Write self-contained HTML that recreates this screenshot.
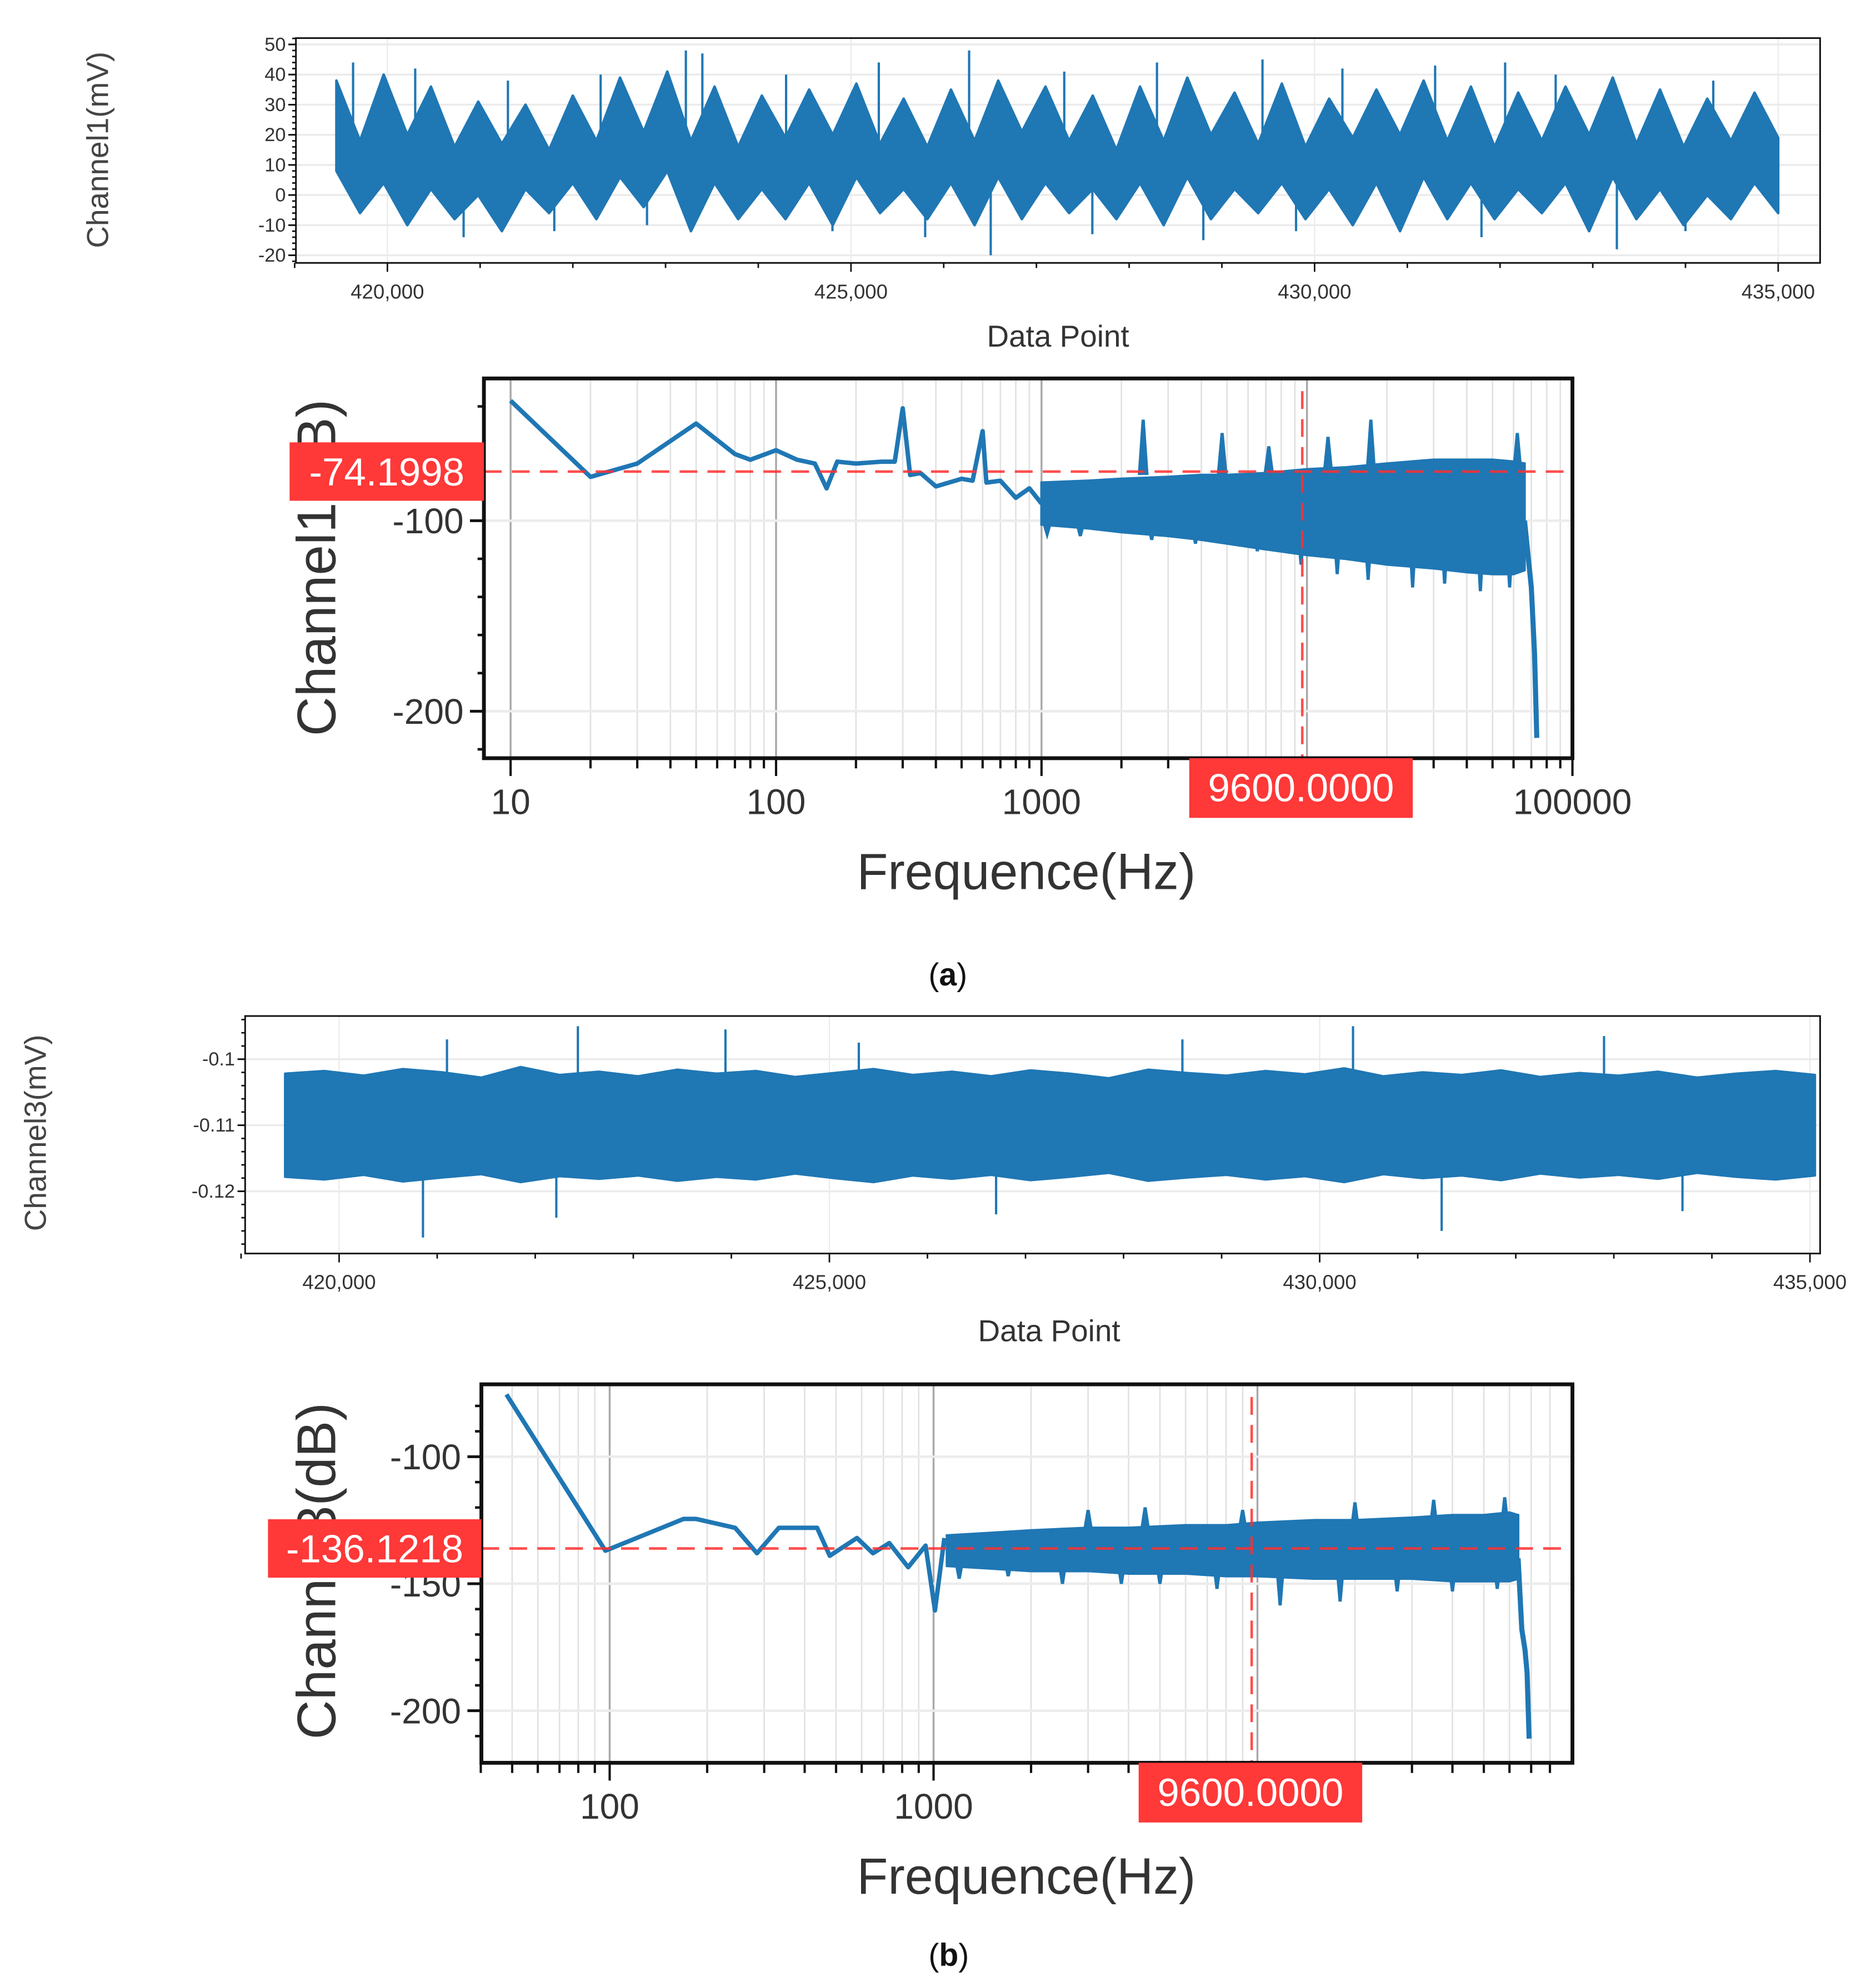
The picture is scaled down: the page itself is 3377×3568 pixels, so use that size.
<!DOCTYPE html>
<html><head><meta charset="utf-8"><style>
html,body{margin:0;padding:0;background:#fff;}
svg{display:block;}
text{font-family:"Liberation Sans",sans-serif;}
</style></head><body>
<svg id="chart" xmlns="http://www.w3.org/2000/svg" width="3377" height="3568" viewBox="0 0 1477 1560.6" preserveAspectRatio="none"></svg>
<script>
// ---------- data: panel (a) time series ----------
const topA_range=[419450,435000];
const topA_xTicks=[420000,425000,430000,435000];
const topA_xLabels=['420,000','425,000','430,000','435,000'];
const topA_yTicks=[50,40,30,20,10,0,-10,-20];
const topA_peakHi=[38,40,36,31,30,33,39,41,36,33,35,37,32,35,38,36,33,36,39,34,37,32,35,38,36,34,36,39,35,32,34];
const topA_peakLo=[8,4,2,0,2,4,6,8,4,2,4,6,2,4,6,4,2,4,6,2,4,2,4,6,4,2,4,6,2,0,4];
const topA_troughHi=[18,20,16,17,15,18,21,18,16,19,20,17,16,18,21,18,15,18,20,17,16,19,20,18,16,18,20,17,16,18,19];
const topA_troughLo=[-6,-10,-8,-12,-6,-8,-4,-12,-8,-8,-10,-6,-8,-10,-8,-6,-8,-10,-8,-6,-8,-10,-12,-8,-8,-6,-12,-8,-10,-8,-6];
const topA_spikePts=[419630,423219,423397,426274,429438,432055,426507,433260,420822,427603,420300,421300,422300,424300,425300,427300,428300,430300,431300,432600,434300,421800,422800,424800,425800,428800,429800,431800,434000];
const topA_spikeVals=[44,48,47,48,45,44,-20,-18,-14,-13,42,38,40,40,44,41,44,42,43,40,38,-12,-10,-12,-14,-15,-12,-14,-12];
// ---------- panel (a) spectrum ----------
const specA_lowF=[10,20,30,50,70,80,100,120,140,155,170,200,250,280,300,320,350,400,500,550,600,620,700,800,900,1000];
const specA_lowDb=[-37,-77,-70,-49,-65,-68,-63,-68,-70,-83,-69,-70,-69,-69,-41,-76,-75,-82,-78,-79,-53,-80,-79,-88,-83,-91];
const specA_bandF=[1000,1500,2000,3000,4000,5000,7000,10000,14000,20000,30000,40000,50000,60000,66000];
const specA_bandHi=[-80,-79,-78,-77,-76,-76,-75,-73,-72,-70,-68,-68,-68,-69,-70];
const specA_bandLo=[-102,-104,-106,-108,-110,-112,-115,-118,-120,-123,-125,-127,-128,-128,-126];
const specA_dipF=[1050,1400,2600,3800,6500,9500,13000,17000,25000,33000,45000,58000];
const specA_dipDb=[-107,-108,-110,-112,-116,-123,-128,-131,-135,-133,-137,-135];
const specA_spikeF=[2415,4790,7180,12000,17400,62000];
const specA_spikeDb=[-47,-54,-61,-56,-47,-54];
const specA_dropF=[66000,70000,72000,73400];
const specA_dropDb=[-100,-135,-170,-214];
const specA_marker=[9600,-74.1998];
// ---------- panel (b) time series ----------
const topB_range=[419450,435050];
const topB_xTicks=[420000,425000,430000,435000];
const topB_xLabels=['420,000','425,000','430,000','435,000'];
const topB_yTicks=[-0.1,-0.11,-0.12];
const topB_yLabels=['-0.1','-0.11','-0.12'];
const topB_hi=[-0.1022,-0.1018,-0.1025,-0.1015,-0.1020,-0.1028,-0.1012,-0.1024,-0.1019,-0.1026,-0.1016,-0.1022,-0.1018,-0.1027,-0.1021,-0.1015,-0.1024,-0.1019,-0.1026,-0.1017,-0.1022,-0.1029,-0.1016,-0.1021,-0.1025,-0.1018,-0.1023,-0.1014,-0.1026,-0.1020,-0.1024,-0.1017,-0.1027,-0.1021,-0.1025,-0.1019,-0.1028,-0.1022,-0.1018,-0.1024];
const topB_lo=[-0.1178,-0.1182,-0.1175,-0.1185,-0.1179,-0.1174,-0.1186,-0.1177,-0.1181,-0.1176,-0.1184,-0.1178,-0.1182,-0.1173,-0.1180,-0.1186,-0.1176,-0.1181,-0.1175,-0.1183,-0.1178,-0.1172,-0.1184,-0.1179,-0.1175,-0.1182,-0.1177,-0.1186,-0.1174,-0.1180,-0.1176,-0.1183,-0.1173,-0.1179,-0.1175,-0.1181,-0.1172,-0.1178,-0.1182,-0.1176];
const topB_spikePts=[422435,423940,430340,421100,425300,428600,432900,420855,431244,422215,426700,433700];
const topB_spikeVals=[-0.095,-0.0955,-0.095,-0.097,-0.0975,-0.097,-0.0965,-0.127,-0.126,-0.124,-0.1235,-0.123];
// ---------- panel (b) spectrum ----------
const specB_lowF=[48,97,169,185,244,285,333,437,478,580,650,730,835,945,1010,1080];
const specB_lowDb=[-75.5,-137,-124.5,-124.5,-128,-138,-128,-128,-139,-132,-138,-134,-143.5,-135,-160.5,-132];
const specB_bandF=[1100,1500,2000,3000,4000,6000,8000,10000,15000,20000,30000,40000,50000,60000,63800];
const specB_bandHi=[-131,-130,-129,-128,-128,-127,-127,-126,-125,-125,-124,-123,-123,-122,-123];
const specB_bandLo=[-143,-144,-145,-145,-146,-146,-147,-147,-148,-148,-148,-149,-149,-149,-148];
const specB_dipF=[1200,1700,2500,3800,5000,7500,11750,18000,27000,40000,55000];
const specB_dipDb=[-148,-147,-150,-150,-150,-152,-158.5,-157,-153,-153,-152];
const specB_spikeF=[3000,4500,9000,20000,35000,58000];
const specB_spikeDb=[-121,-120,-121,-118,-117,-116];
const specB_dropF=[63800,65500,67000,68000,69000];
const specB_dropDb=[-140,-168,-176,-185,-211];
const specB_marker=[9600,-136.1218];

const NS='http://www.w3.org/2000/svg';
const svg=document.getElementById('chart');
const BLUE='#1f77b4';
function mk(tag,attrs,parent){const e=document.createElementNS(NS,tag);for(const k in attrs)e.setAttribute(k,attrs[k]);(parent||svg).appendChild(e);return e;}
function txt(str,attrs,parent){const e=mk('text',attrs,parent);e.textContent=str;return e;}
function lin(d0,d1,r0,r1){return v=>r0+(v-d0)*(r1-r0)/(d1-d0);}
function logS(d0,d1,r0,r1){const a=Math.log10(d0),b=Math.log10(d1);return v=>r0+(Math.log10(v)-a)*(r1-r0)/(b-a);}

function timePanel(o){
  const g=mk('g',{});
  
  
  const x=lin(o.xd[0],o.xd[1],o.xr[0],o.xr[1]);
  const y=lin(o.yd[0],o.yd[1],o.yr[0],o.yr[1]);
  const B=o.box;
  o.xTicks.forEach(t=>{const l=mk('line',{x1:x(t),x2:x(t),y1:B[1],y2:B[3],stroke:'#ebebeb','stroke-width':1},g);
    
    });
  o.yTicks.forEach(t=>{const l=mk('line',{x1:B[0],x2:B[2],y1:y(t),y2:y(t),stroke:'#ebebeb','stroke-width':1.5},g);
    
    });
  const pts=o.bandTop.length;
  let top=[],bot=[];
  for(let k=0;k<pts;k++){const dp=o.range[0]+k*(o.range[1]-o.range[0])/(pts-1);top.push(x(dp)+','+y(o.bandTop[k]));bot.unshift(x(dp)+','+y(o.bandBot[k]));}
  const band=mk('polygon',{points:top.concat(bot).join(' '),fill:BLUE,stroke:BLUE,'stroke-width':2,'stroke-linejoin':'round'},g);
  
  
  o.spikePts.forEach((p,i)=>{const l=mk('line',{x1:x(p),x2:x(p),y1:y(o.mid),y2:y(o.spikeVals[i]),stroke:BLUE,'stroke-width':1.8},g);
    
    });
  const fr=mk('rect',{x:B[0],y:B[1],width:B[2]-B[0],height:B[3]-B[1],fill:'none',stroke:'#111','stroke-width':1.3},g);
  
  
  for(let t=o.minorX[0];t<=o.minorX[1];t+=o.minorX[2]){const major=o.xTicks.includes(t);
    const l=mk('line',{x1:x(t),x2:x(t),y1:B[3],y2:B[3]+(major?7:4),stroke:'#111','stroke-width':1.2},g);
    
    }
  o.xTicks.forEach((t,i)=>{const tx=txt(o.xLabels[i],{x:x(t),y:B[3]+28,'font-size':16,fill:'#333','text-anchor':'middle'},g);
    
    });
  for(let v=o.minorY[0];v<=o.minorY[1]+1e-9;v+=o.minorY[2]){const l=mk('line',{x1:B[0]-3,x2:B[0],y1:y(v),y2:y(v),stroke:'#111','stroke-width':1.2},g);
    
    }
  o.yTicks.forEach((t,i)=>{const l=mk('line',{x1:B[0]-6,x2:B[0],y1:y(t),y2:y(t),stroke:'#111','stroke-width':1.3},g);
    
    
    const tx=txt(o.yLabels[i],{x:B[0]-8,y:y(t)+5,'font-size':15,fill:'#333','text-anchor':'end'},g);
    
    });
  const xt=txt('Data Point',{x:o.xTitle[0],y:o.xTitle[1],'font-size':24,fill:'#333','text-anchor':'middle'},g);
  
  
  const yt=txt(o.yTitle,{x:0,y:0,'font-size':24,fill:'#444','text-anchor':'middle',transform:`translate(${o.yTitlePos[0]},${o.yTitlePos[1]}) rotate(-90)`},g);
  
  
}

function specPanel(o){
  const g=mk('g',{});
  
  
  const x=logS(o.xd[0],o.xd[1],o.xr[0],o.xr[1]);
  const y=lin(o.yd[0],o.yd[1],o.yr[0],o.yr[1]);
  const B=o.box;
  const fmin=o.fmin,fmax=o.fmax;
  for(let d=1;d<=5;d++){for(let m=1;m<=9;m++){const f=m*Math.pow(10,d);if(f<fmin||f>fmax)continue;
    const xx=x(f);const major=(m===1);
    if(xx>B[0]&&xx<B[2]){const l=mk('line',{x1:xx,x2:xx,y1:B[1],y2:B[3],stroke:major?'#a8a8a8':'#e2e2e2','stroke-width':major?1.5:1.2},g);
      
      }
    const tk=mk('line',{x1:xx,x2:xx,y1:B[3],y2:B[3]+(major?14:8),stroke:'#111','stroke-width':1.8},g);
    
    }}
  o.yTicks.forEach(t=>{const l=mk('line',{x1:B[0],x2:B[2],y1:y(t),y2:y(t),stroke:'#ececec','stroke-width':2},g);
    
    });
  const line=mk('polyline',{points:o.lowF.map((f,i)=>x(f)+','+y(o.lowDb[i])).join(' '),fill:'none',stroke:BLUE,'stroke-width':3.5,'stroke-linejoin':'round'},g);
  
  
  const top=o.bandF.map((f,i)=>x(f)+','+y(o.bandHi[i]));
  const bot=o.bandF.map((f,i)=>x(f)+','+y(o.bandLo[i])).reverse();
  const band=mk('polygon',{points:top.concat(bot).join(' '),fill:BLUE,stroke:BLUE,'stroke-width':2},g);
  
  
  o.dipF.forEach((f,i)=>{const l=mk('polyline',{points:`${x(f)-3},${y(o.dipBase)} ${x(f)},${y(o.dipDb[i])} ${x(f)+3},${y(o.dipBase)}`,fill:BLUE,stroke:BLUE,'stroke-width':2.5},g);
    
    });
  o.spikeF.forEach((f,i)=>{const l=mk('polyline',{points:`${x(f)-3},${y(o.spikeBase)} ${x(f)},${y(o.spikeDb[i])} ${x(f)+3},${y(o.spikeBase)}`,fill:BLUE,stroke:BLUE,'stroke-width':2.5},g);
    
    });
  const drop=mk('polyline',{points:o.dropF.map((f,i)=>x(f)+','+y(o.dropDb[i])).join(' '),fill:'none',stroke:BLUE,'stroke-width':4,'stroke-linejoin':'round'},g);
  
  
  const hy=y(o.marker[1]),vx=x(o.marker[0]);
  const hl=mk('line',{x1:B[0],x2:B[2],y1:hy,y2:hy,stroke:'#ff3030','stroke-width':2,'stroke-dasharray':'14,8','opacity':0.85},g);
  
  
  const vl=mk('line',{x1:vx,x2:vx,y1:B[1]+10,y2:B[3],stroke:'#ff3030','stroke-width':2,'stroke-dasharray':'14,8','opacity':0.85},g);
  
  
  const fr=mk('rect',{x:B[0],y:B[1],width:B[2]-B[0],height:B[3]-B[1],fill:'none',stroke:'#111','stroke-width':3},g);
  
  
  for(let v=o.minorY[0];v<=o.minorY[1];v+=o.minorY[2]){const l=mk('line',{x1:B[0]-5,x2:B[0],y1:y(v),y2:y(v),stroke:'#111','stroke-width':2},g);
    
    }
  o.yTicks.forEach(t=>{const l=mk('line',{x1:B[0]-11,x2:B[0],y1:y(t),y2:y(t),stroke:'#111','stroke-width':2.2},g);
    
    
    const tx=txt(String(t),{x:B[0]-16,y:y(t)+10,'font-size':28,fill:'#333','text-anchor':'end'},g);
    
    });
  o.xLabels.forEach(f=>{const tx=txt(String(f),{x:x(f),y:B[3]+44,'font-size':28,fill:'#333','text-anchor':'middle'},g);
    
    });
  const xt=txt('Frequence(Hz)',{x:808,y:B[3]+103,'font-size':40,fill:'#333','text-anchor':'middle'},g);
  
  
  const yt=txt(o.yTitle,{x:0,y:0,'font-size':43,fill:'#333','text-anchor':'middle',transform:`translate(264,${o.yTitleY}) rotate(-90)`},g);
  
  
  const rb=mk('rect',{x:o.yBox[0],y:hy-23,width:B[0]-o.yBox[0],height:46,fill:'#ff3838'},g);
  
  
  const rt=txt(o.marker[1].toFixed(4),{x:(o.yBox[0]+B[0])/2,y:hy+11,'font-size':31,fill:'#fff','text-anchor':'middle'},g);
  
  
  const xb=mk('rect',{x:vx-o.xBoxL,y:B[3],width:176,height:47,fill:'#ff3838'},g);
  
  
  const xtt=txt(o.marker[0].toFixed(4),{x:vx-o.xBoxL+88,y:B[3]+34,'font-size':31,fill:'#fff','text-anchor':'middle'},g);
  
  
}

const aTop=[],aBot=[];
for(let i=0;i<topA_peakHi.length;i++){aTop.push(topA_peakHi[i],topA_troughHi[i]);aBot.push(topA_peakLo[i],topA_troughLo[i]);}
timePanel({name:'channel1-time-chart',xd:[420000,435000],xr:[305,1400],yd:[50,-20],yr:[35,201],box:[233,30,1433,207],
  range:topA_range,bandTop:aTop,bandBot:aBot,mid:15,spikePts:topA_spikePts,spikeVals:topA_spikeVals,
  xTicks:topA_xTicks,xLabels:topA_xLabels,yTicks:topA_yTicks,yLabels:topA_yTicks.map(String),
  minorX:[419000,435000,1000],minorY:[-22,52,2],xTitle:[833,273],yTitle:'Channel1(mV)',yTitlePos:[85,118]});

specPanel({name:'channel1-spectrum-chart',xd:[10,100000],xr:[402,1238],yd:[-100,-200],yr:[410,560],box:[381,298,1238,597],
  fmin:8,fmax:100000,lowF:specA_lowF,lowDb:specA_lowDb,bandF:specA_bandF,bandHi:specA_bandHi,bandLo:specA_bandLo,
  dipF:specA_dipF,dipDb:specA_dipDb,dipBase:-100,spikeF:specA_spikeF,spikeDb:specA_spikeDb,spikeBase:-76,dropF:specA_dropF,dropDb:specA_dropDb,
  marker:specA_marker,yTicks:[-100,-200],minorY:[-220,-40,20],xLabels:[10,100,1000,10000,100000],
  yTitle:'Channel1(dB)',yTitleY:447,yBox:[228],xBoxL:89});

const ca=txt('(',{x:731,y:776,'font-size':25,fill:'#111','font-family':'Liberation Serif, serif'});


ca.innerHTML='(<tspan font-weight="bold">a</tspan>)';

timePanel({name:'channel3-time-chart',xd:[420000,435000],xr:[267,1425],yd:[-0.1,-0.12],yr:[834,938],box:[193,800,1433,987],
  range:topB_range,bandTop:topB_hi,bandBot:topB_lo,mid:-0.11,spikePts:topB_spikePts,spikeVals:topB_spikeVals,
  xTicks:topB_xTicks,xLabels:topB_xLabels,yTicks:topB_yTicks,yLabels:topB_yLabels,
  minorX:[419000,435000,1000],minorY:[-0.128,-0.094,0.002],xTitle:[826,1056],yTitle:'Channel3(mV)',yTitlePos:[36,892]});

specPanel({name:'channel3-spectrum-chart',xd:[100,1000],xr:[480,735],yd:[-100,-200],yr:[1147,1347],box:[379,1090,1238,1388],
  fmin:40,fmax:80000,lowF:specB_lowF,lowDb:specB_lowDb,bandF:specB_bandF,bandHi:specB_bandHi,bandLo:specB_bandLo,
  dipF:specB_dipF,dipDb:specB_dipDb,dipBase:-140,spikeF:specB_spikeF,spikeDb:specB_spikeDb,spikeBase:-130,dropF:specB_dropF,dropDb:specB_dropDb,
  marker:specB_marker,yTicks:[-100,-150,-200],minorY:[-210,-80,10],xLabels:[100,1000,10000],
  yTitle:'Channel3(dB)',yTitleY:1237,yBox:[211],xBoxL:89});

const cb=txt('(',{x:731,y:1548,'font-size':25,fill:'#111','font-family':'Liberation Serif, serif'});


cb.innerHTML='(<tspan font-weight="bold">b</tspan>)';
</script>
</body></html>
